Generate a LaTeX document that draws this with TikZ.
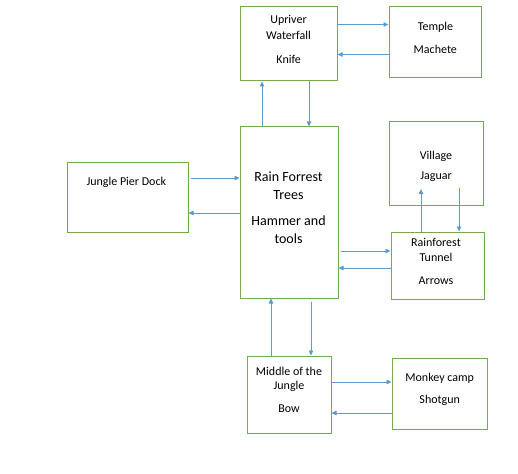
\documentclass[tikz,border=0pt]{standalone}
\usepackage{fontspec}
\setmainfont{Carlito}
\usepackage{tikz}
\usetikzlibrary{arrows.meta}
\definecolor{cBox}{RGB}{112,173,71}
\definecolor{cArr}{RGB}{91,155,213}

\begin{document}
\begin{tikzpicture}[x=1pt, y=-1pt,
  box/.style={draw=cBox, line width=1pt, minimum width=#1, inner sep=0pt},
  flow/.style={draw=cArr, line width=0.8pt, -{Triangle[length=5pt,width=4.5pt]}},
  txt/.style={anchor=base, font=\fontsize{12}{14}\selectfont, inner sep=0pt},
  bigtxt/.style={anchor=base, font=\fontsize{14}{17}\selectfont, inner sep=0pt}]
  \useasboundingbox (0,0) rectangle (518,473);
  % boxes
  \node[box=97pt, minimum height=74pt] (up) at (288.5,44) {};
  \node[box=92pt, minimum height=71pt] (temple) at (435,42.5) {};
  \node[box=121pt, minimum height=70pt] (pier) at (127.5,197) {};
  \node[box=98pt, minimum height=171pt] (rain) at (289,212.5) {};
  \node[box=94pt, minimum height=83pt] (village) at (436,163.5) {};
  \node[box=93pt, minimum height=67pt] (tunnel) at (437.5,265.5) {};
  \node[box=84pt, minimum height=77pt] (middle) at (289,394.5) {};
  \node[box=95pt, minimum height=71pt] (monkey) at (439.5,393.5) {};
  % labels
  \foreach \x/\y/\t [count=\i] in {288.5/24/Upriver, 288.5/39.3/Waterfall, 288.7/64/Knife,
      435.5/31/Temple, 435.3/53.3/Machete, 126.3/185/Jungle Pier Dock,
      436/159.3/Village, 436/179/Jaguar, 436/246.7/Rainforest, 436/261/Tunnel,
      436/284.3/Arrows, 289/375/Middle of the, 289/389.3/Jungle, 289/412.3/Bow,
      439.7/381/Monkey camp, 439.7/403.7/Shotgun}
    \node[txt] (lbl\i) at (\x,\y) {\t};
  \foreach \y/\t [count=\i] in {181/Rain Forrest, 199/Trees, 225.7/Hammer and, 243.3/tools}
    \node[bigtxt] (rlbl\i) at (288.5,\y) {\t};
  % arrows
  \coordinate (vjA) at (421,189);
  \coordinate (vjB) at (459,188);
  \draw[flow] (up.east |- 0,24.5) -- (temple.west |- 0,24.5);
  \draw[flow] (temple.west |- 0,54.5) -- (up.east |- 0,54.5);
  \draw[flow] (rain.north -| 262,0) -- (up.south -| 262,0);
  \draw[flow] (up.south -| 309,0) -- (rain.north -| 309,0);
  \draw[flow] ([xshift=2pt]pier.east |- 0,178) -- (rain.west |- 0,178);
  \draw[flow] (rain.west |- 0,213) -- (pier.east |- 0,213);
  \draw[flow] ([xshift=2pt]rain.east |- 0,251) -- (tunnel.west |- 0,251);
  \draw[flow] (tunnel.west |- 0,268) -- (rain.east |- 0,268);
  \draw[flow] (tunnel.north -| vjA) -- (vjA);
  \draw[flow] (vjB) -- (tunnel.north -| vjB);
  \draw[flow] (middle.north -| 271,0) -- (rain.south -| 271,0);
  \draw[flow] ([yshift=-3pt]rain.south -| 311,0) -- (middle.north -| 311,0);
  \draw[flow] (middle.east |- 0,382) -- (monkey.west |- 0,382);
  \draw[flow] (monkey.west |- 0,413) -- (middle.east |- 0,413);
\end{tikzpicture}
\end{document}
